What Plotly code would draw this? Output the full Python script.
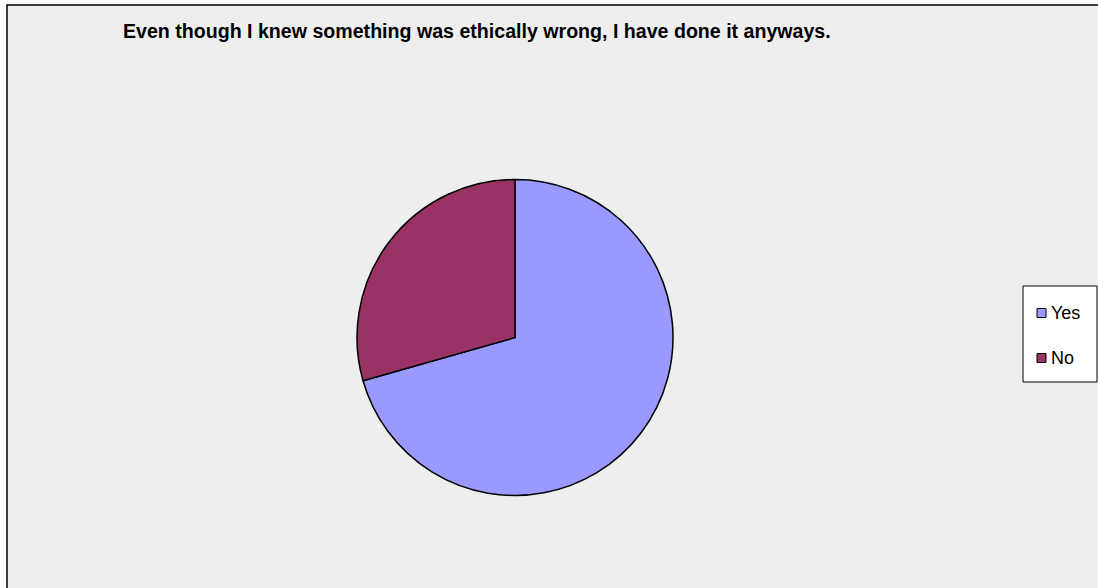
import plotly.graph_objects as go

W, H = 1098, 588

title_text = "Even though I knew something was ethically wrong, I have done it anyways."
labels = ["Yes", "No"]
values = [12, 5]
colors = ["#9999FF", "#993366"]

def px(x):
    return x / W

def py(y):
    return 1 - y / H

cx, cy, r = 515, 337.5, 158

fig = go.Figure()
fig.add_trace(go.Pie(
    labels=labels, values=values, sort=False, direction="clockwise", rotation=0,
    marker=dict(colors=colors, line=dict(color="black", width=1.5)),
    textinfo="none", hoverinfo="label+value+percent", showlegend=False,
    domain=dict(x=[px(cx - r), px(cx + r)], y=[py(cy + r), py(cy - r)]),
))

shapes = [
    # chart frame
    dict(type="rect", xref="paper", yref="paper", x0=px(7), x1=px(W + 10), y0=py(H + 10), y1=py(5),
         fillcolor="#EEEEEE", line=dict(color="black", width=1.5), layer="below"),
    # legend box
    dict(type="rect", xref="paper", yref="paper", x0=px(1023), x1=px(1097), y0=py(382), y1=py(286),
         fillcolor="white", line=dict(color="black", width=1), layer="above"),
]
annotations = [
    dict(text="<b>" + title_text + "</b>", xref="paper", yref="paper", x=px(121), y=py(31),
         xanchor="left", yanchor="middle", showarrow=False,
         font=dict(family="Liberation Sans, Arial", size=19.6, color="black")),
]
item_y = [313, 358]
for lab, col, yy in zip(labels, colors, item_y):
    shapes.append(dict(type="rect", xref="paper", yref="paper", x0=px(1037), x1=px(1046),
                       y0=py(yy + 4.5), y1=py(yy - 4.5), fillcolor=col,
                       line=dict(color="black", width=1), layer="above"))
    annotations.append(dict(text=lab, xref="paper", yref="paper", x=px(1049), y=py(yy),
                            xanchor="left", yanchor="middle", showarrow=False,
                            font=dict(family="Liberation Sans, Arial", size=18, color="black")))

fig.update_layout(
    width=W, height=H, margin=dict(l=0, r=0, t=0, b=0),
    paper_bgcolor="white", plot_bgcolor="white",
    shapes=shapes, annotations=annotations, showlegend=False,
)
fig.write_html("out.html")
